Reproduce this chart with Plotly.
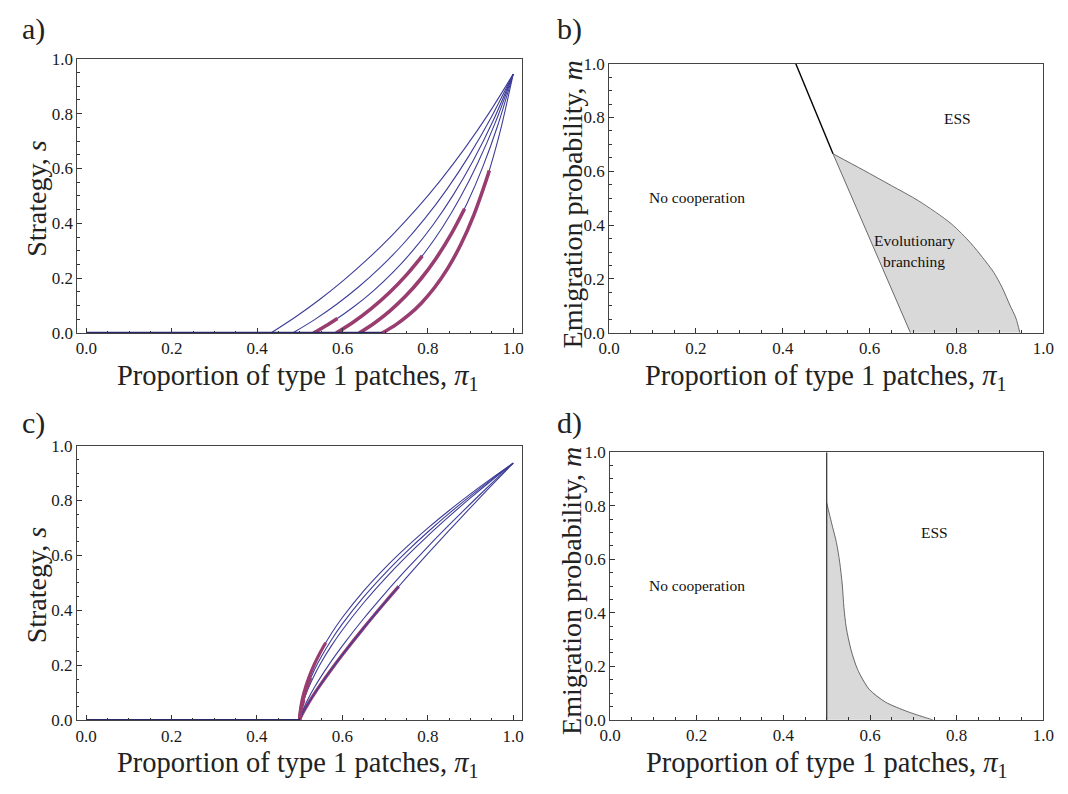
import plotly.graph_objects as go

# ---------------- data ----------------
# Panel a: strategy curves (thin blue) with thick magenta portions
a1_x = [0.432, 0.4888, 0.5456, 0.6024, 0.6592, 0.716, 0.7728, 0.8296, 0.8864, 0.9432, 1.0]
a1_y = [0.0, 0.0578, 0.1216, 0.1922, 0.2702, 0.3564, 0.4517, 0.5569, 0.6733, 0.8019, 0.944]
a2_x = [0.483, 0.5347, 0.5864, 0.6381, 0.6898, 0.7415, 0.7932, 0.8449, 0.8966, 0.9483, 1.0]
a2_y = [0.0, 0.0491, 0.1050, 0.1687, 0.2412, 0.3238, 0.4178, 0.5249, 0.6469, 0.7858, 0.944]
a3_x = [0.532, 0.5788, 0.6256, 0.6724, 0.7192, 0.766, 0.8128, 0.8596, 0.9064, 0.9532, 1.0]
a3_y = [0.0, 0.0439, 0.0949, 0.1541, 0.2229, 0.3029, 0.3957, 0.5037, 0.6291, 0.7747, 0.944]
a4_x = [0.585, 0.6265, 0.668, 0.7095, 0.751, 0.7925, 0.834, 0.8755, 0.917, 0.9585, 1.0]
a4_y = [0.0, 0.0414, 0.0901, 0.1471, 0.2141, 0.2927, 0.3849, 0.4931, 0.6201, 0.7691, 0.944]
a5_x = [0.639, 0.6751, 0.7112, 0.7473, 0.7834, 0.8195, 0.8556, 0.8917, 0.9278, 0.9639, 1.0]
a5_y = [0.0, 0.0369, 0.0810, 0.1339, 0.1971, 0.2729, 0.3635, 0.4721, 0.6021, 0.7577, 0.944]
a6_x = [0.693, 0.7237, 0.7544, 0.7851, 0.8158, 0.8465, 0.8772, 0.9079, 0.9386, 0.9693, 1.0]
a6_y = [0.0, 0.0289, 0.0650, 0.1100, 0.1660, 0.2358, 0.3227, 0.4311, 0.5661, 0.7344, 0.944]

a3_thick_x = [0.532, 0.560, 0.588]
a3_thick_y = [0.0, 0.0254, 0.0533]
a4_thick_x = [0.585, 0.6265, 0.668, 0.7095, 0.751, 0.787]
a4_thick_y = [0.0, 0.0414, 0.0901, 0.1471, 0.2141, 0.2815]
a5_thick_x = [0.639, 0.6751, 0.7112, 0.7473, 0.7834, 0.8195, 0.8556, 0.886]
a5_thick_y = [0.0, 0.0369, 0.0810, 0.1339, 0.1971, 0.2729, 0.3635, 0.4534]
a6_thick_x = [0.693, 0.7237, 0.7544, 0.7851, 0.8158, 0.8465, 0.8772, 0.9079, 0.9386, 0.944]
a6_thick_y = [0.0, 0.0289, 0.0650, 0.1100, 0.1660, 0.2358, 0.3227, 0.4311, 0.5661, 0.593]

a_base_x = [0.0, 0.693]
a_base_y = [0.0, 0.0]

# Panel c: strategy curves
c_x = [0.5, 0.501, 0.505, 0.51, 0.52, 0.535, 0.55, 0.575, 0.6, 0.65, 0.7, 0.75, 0.8, 0.85, 0.9, 0.95, 1.0]
c1_y = [0, 0.0271, 0.0678, 0.1006, 0.1494, 0.2056, 0.2520, 0.3175, 0.3740, 0.4712, 0.5552, 0.6305, 0.6996, 0.7638, 0.8242, 0.8814, 0.936]
c2_y = [0, 0.0211, 0.0564, 0.0861, 0.1314, 0.1849, 0.2298, 0.2943, 0.3507, 0.4491, 0.5352, 0.6133, 0.6854, 0.7530, 0.8169, 0.8777, 0.936]
c3_y = [0, 0.0165, 0.0469, 0.0736, 0.1155, 0.1661, 0.2096, 0.2727, 0.3288, 0.4279, 0.5159, 0.5965, 0.6716, 0.7422, 0.8096, 0.8740, 0.936]
c4_y = [0, 0.0078, 0.0270, 0.0460, 0.0785, 0.1208, 0.1590, 0.2172, 0.2711, 0.3704, 0.4622, 0.5489, 0.6317, 0.7112, 0.7883, 0.8630, 0.936]
c5_y = [0, 0.0048, 0.0187, 0.0337, 0.0607, 0.0976, 0.1322, 0.1866, 0.2383, 0.3364, 0.4295, 0.5193, 0.6063, 0.6911, 0.7744, 0.8558, 0.936]

c1_thick_x = [0.5, 0.501, 0.505, 0.51, 0.52, 0.535, 0.55, 0.561]
c1_thick_y = [0, 0.0271, 0.0678, 0.1006, 0.1494, 0.2056, 0.2520, 0.2822]
c2_thick_x = [0.5, 0.501, 0.505, 0.51, 0.52, 0.526]
c2_thick_y = [0, 0.0211, 0.0564, 0.0861, 0.1314, 0.1542]
c3_thick_x = [0.5, 0.501, 0.505, 0.51]
c3_thick_y = [0, 0.0165, 0.0469, 0.0736]
c5_thick_x = [0.5, 0.501, 0.505, 0.51, 0.52, 0.535, 0.55, 0.575, 0.6, 0.65, 0.7, 0.732]
c5_thick_y = [0, 0.0048, 0.0187, 0.0337, 0.0607, 0.0976, 0.1322, 0.1866, 0.2383, 0.3364, 0.4295, 0.4873]

c_base_x = [0.0, 0.5]
c_base_y = [0.0, 0.0]

# Panel b: region boundaries
b_top_x = [0.430, 0.5157]
b_top_y = [1.0, 0.665]
b_left_x = [0.5157, 0.694]
b_left_y = [0.665, 0.0]
b_right_x = [0.5157, 0.585, 0.650, 0.713, 0.788, 0.833, 0.860, 0.886, 0.905, 0.923, 0.937, 0.946]
b_right_y = [0.665, 0.605, 0.547, 0.490, 0.405, 0.333, 0.280, 0.224, 0.169, 0.103, 0.054, 0.0]

# Panel d: region boundaries
d_vert_x = [0.5, 0.5]
d_vert_y = [0.0, 1.0]
d_curve_x = [0.5, 0.5113, 0.5225, 0.530, 0.536, 0.5398, 0.545, 0.5563, 0.5714, 0.5977, 0.6353, 0.688, 0.737, 0.745]
d_curve_y = [0.811, 0.735, 0.662, 0.589, 0.504, 0.419, 0.346, 0.261, 0.188, 0.115, 0.0667, 0.030, 0.004, 0.0]

tick_vals = [0.0, 0.2, 0.4, 0.6, 0.8, 1.0]
tick_text = ["0.0", "0.2", "0.4", "0.6", "0.8", "1.0"]

# ---------------- styling ----------------
BLUE = "rgb(61,61,153)"
MAG = "rgb(153,61,113)"
NAVY = "rgb(40,40,105)"
FILL = "rgb(217,217,217)"
EDGE = "rgb(90,90,90)"
FONT = "Liberation Serif, Times New Roman, serif"
W, H = 1068, 794

fig = go.Figure()


def line(x, y, ax, color, width, shape="spline"):
    fig.add_trace(go.Scatter(x=x, y=y, mode="lines", xaxis="x" + ax, yaxis="y" + ax,
                             line=dict(color=color, width=width, shape=shape, smoothing=0.8),
                             hoverinfo="skip", showlegend=False))


# Panel a
for xs, ys in [(a1_x, a1_y), (a2_x, a2_y), (a3_x, a3_y), (a4_x, a4_y), (a5_x, a5_y), (a6_x, a6_y)]:
    line(xs, ys, "", BLUE, 1.1)
for xs, ys in [(a3_thick_x, a3_thick_y), (a4_thick_x, a4_thick_y), (a5_thick_x, a5_thick_y), (a6_thick_x, a6_thick_y)]:
    line(xs, ys, "", MAG, 3.6)
line(a_base_x, a_base_y, "", NAVY, 2.4, "linear")

# Panel b
fig.add_trace(go.Scatter(x=b_left_x + b_right_x[::-1], y=b_left_y + b_right_y[::-1], mode="lines",
                         fill="toself", fillcolor=FILL, line=dict(width=0),
                         xaxis="x2", yaxis="y2", hoverinfo="skip", showlegend=False))
line(b_left_x, b_left_y, "2", EDGE, 0.9, "linear")
line(b_right_x, b_right_y, "2", EDGE, 0.9)
line(b_top_x, b_top_y, "2", "black", 1.4, "linear")

# Panel c
c_curves = [c1_y, c2_y, c3_y, c4_y, c5_y]
line(c5_thick_x, c5_thick_y, "3", MAG, 3.2)
for ys in c_curves:
    line(c_x, ys, "3", BLUE, 1.1)
for xs, ys in [(c1_thick_x, c1_thick_y), (c2_thick_x, c2_thick_y), (c3_thick_x, c3_thick_y)]:
    line(xs, ys, "3", MAG, 3.2)
line(c_base_x, c_base_y, "3", NAVY, 2.4, "linear")

# Panel d
fig.add_trace(go.Scatter(x=d_curve_x + [0.5], y=d_curve_y + [0.0], mode="lines",
                         fill="toself", fillcolor=FILL, line=dict(width=0),
                         xaxis="x4", yaxis="y4", hoverinfo="skip", showlegend=False))
line(d_curve_x, d_curve_y, "4", EDGE, 0.9)
line(d_vert_x, d_vert_y, "4", "rgb(60,60,60)", 1.3, "linear")


def px2x(p):
    return p / W


def py2y(p):
    return 1 - p / H


def axis(rng, dom, anchor):
    return dict(domain=dom, range=rng, anchor=anchor, showgrid=False, zeroline=False,
                showline=True, mirror=True, linecolor="#444", linewidth=1,
                ticks="inside", ticklen=5, tickwidth=1, tickcolor="#333",
                tickvals=tick_vals, ticktext=tick_text,
                tickfont=dict(family=FONT, size=17, color="#1a1a1a"),
                minor=dict(dtick=0.05, tick0=0, ticks="inside", ticklen=2.5, tickwidth=1, tickcolor="#333"))


XL = [-0.0215, 1.0205]
fig.update_layout(
    width=W, height=H, margin=dict(l=0, r=0, t=0, b=0),
    paper_bgcolor="white", plot_bgcolor="white",
    font=dict(family=FONT, color="#222"),
    xaxis=axis(XL, [px2x(67.7), px2x(521.7)], "y"),
    yaxis=axis([0, 1], [py2y(332), py2y(51)], "x"),
    xaxis2=axis([0, 1], [px2x(610.7), px2x(1054)], "y2"),
    yaxis2=axis([0, 1], [py2y(331.7), py2y(56)], "x2"),
    xaxis3=axis(XL, [px2x(67.3), px2x(521.7)], "y3"),
    yaxis3=axis([0, 1], [py2y(728.7), py2y(447.3)], "x3"),
    xaxis4=axis([0, 1], [px2x(611.7), px2x(1054)], "y4"),
    yaxis4=axis([0, 1], [py2y(728.3), py2y(454)], "x4"),
)

ann = []
XT = "Proportion of type 1 patches, <i>π</i><sub>1</sub>"
for cx, cy in [(293, 378), (832, 378), (293, 774), (832.8, 774)]:
    ann.append(dict(text=XT, x=px2x(cx), y=py2y(cy), xref="paper", yref="paper",
                    showarrow=False, xanchor="center", yanchor="middle",
                    font=dict(family=FONT, size=28.5, color="#222")))
for txt, cx, cy in [("Strategy, <i>s</i>", 26, 194), ("Emigration probability, <i>m</i>", 573, 200),
                    ("Strategy, <i>s</i>", 26, 590), ("Emigration probability, <i>m</i>", 573, 596)]:
    ann.append(dict(text=txt, x=px2x(cx), y=py2y(cy), xref="paper", yref="paper", textangle=-90,
                    showarrow=False, xanchor="center", yanchor="middle",
                    font=dict(family=FONT, size=28, color="#222")))
for txt, cx, cy in [("a)", 9, 21), ("b)", 555, 21), ("c)", 9, 424), ("d)", 555, 424)]:
    ann.append(dict(text=txt, x=px2x(cx), y=py2y(cy), xref="paper", yref="paper",
                    showarrow=False, xanchor="left", yanchor="middle",
                    font=dict(family=FONT, size=30, color="#222")))
for txt, x, y, ax in [("No cooperation", 0.2015, 0.502, "2"), ("ESS", 0.802, 0.796, "2"),
                      ("Evolutionary", 0.703, 0.341, "2"), ("branching", 0.703, 0.263, "2"),
                      ("No cooperation", 0.200, 0.502, "4"), ("ESS", 0.750, 0.699, "4")]:
    ann.append(dict(text=txt, x=x, y=y, xref="x" + ax, yref="y" + ax, showarrow=False,
                    xanchor="center", yanchor="middle",
                    font=dict(family=FONT, size=15.5, color="#111")))
fig.update_layout(annotations=ann)

fig.write_html("out.html")
